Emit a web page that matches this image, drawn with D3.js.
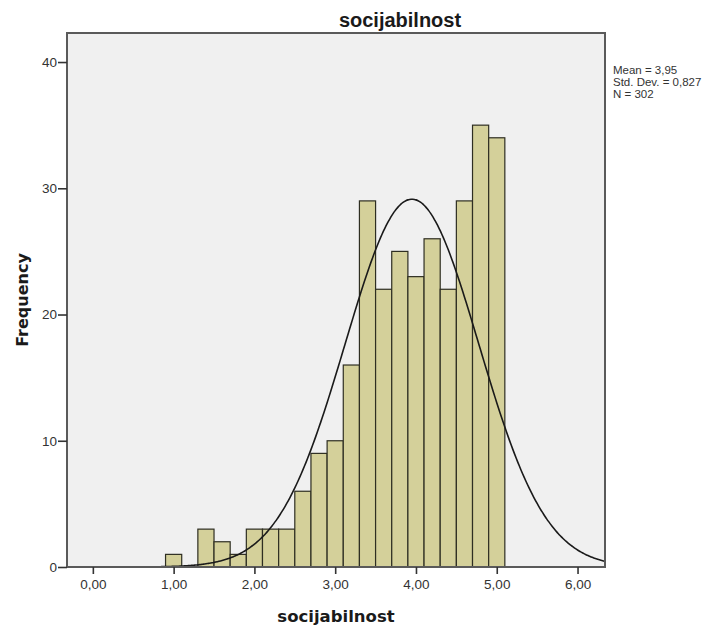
<!DOCTYPE html>
<html>
<head>
<meta charset="utf-8">
<title>socijabilnost</title>
<script src="https://cdn.jsdelivr.net/npm/d3@7"></script>
<style>
  body { margin: 0; background: #fff; }
  text { font-family: "Liberation Sans", Arial, sans-serif; }
</style>
</head>
<body>
<script>
// histogram bins (lower edge), width 0.2
var binStarts = [0.9, 1.1, 1.3, 1.5, 1.7, 1.9, 2.1, 2.3, 2.5, 2.7, 2.9, 3.1, 3.3, 3.5, 3.7, 3.9, 4.1, 4.3, 4.5, 4.7, 4.9]
var counts = [1, 0, 3, 2, 1, 3, 3, 3, 6, 9, 10, 16, 29, 22, 25, 23, 26, 22, 29, 35, 34]
var binWidth = 0.2
var xTicks = [0, 1, 2, 3, 4, 5, 6]
var yTicks = [0, 10, 20, 30, 40]
var stats = ["Mean = 3,95", "Std. Dev. = 0,827", "N = 302"]
var mean = 3.95, sd = 0.827, n = 302

var width = 724, height = 627
var pLeft = 67, pRight = 605, pTop = 33, pBottom = 567

var svg = d3.select("body").append("svg")
    .attr("width", width).attr("height", height)

var x = d3.scaleLinear().domain([-0.32, 6.34]).range([pLeft, pRight])
var y = d3.scaleLinear().domain([0, 42.3]).range([pBottom, pTop])

svg.append("rect")
    .attr("x", pLeft).attr("y", pTop)
    .attr("width", pRight - pLeft).attr("height", pBottom - pTop)
    .attr("fill", "#f0f0f0")

svg.selectAll("rect.bar")
    .data(binStarts.map(function(d, i) { return {x0: d, c: counts[i]} }).filter(function(d) { return d.c > 0 }))
    .enter().append("rect")
    .attr("class", "bar")
    .attr("x", function(d) { return x(d.x0) })
    .attr("width", function(d) { return x(d.x0 + binWidth) - x(d.x0) })
    .attr("y", function(d) { return y(d.c) })
    .attr("height", function(d) { return y(0) - y(d.c) })
    .attr("fill", "#d4d09a")
    .attr("stroke", "#2e2e22")
    .attr("stroke-width", 1.2)

// normal curve
var curveX = d3.range(-0.32, 6.341, 0.02)
var k = n * binWidth / (sd * Math.sqrt(2 * Math.PI))
var line = d3.line()
    .x(function(d) { return x(d) })
    .y(function(d) { return y(k * Math.exp(-0.5 * Math.pow((d - mean) / sd, 2))) })
    .curve(d3.curveBasis)
svg.append("path")
    .attr("d", line(curveX))
    .attr("fill", "none")
    .attr("stroke", "#1a1a1a")
    .attr("stroke-width", 1.6)

// frame
svg.append("rect")
    .attr("x", pLeft).attr("y", pTop)
    .attr("width", pRight - pLeft).attr("height", pBottom - pTop)
    .attr("fill", "none")
    .attr("stroke", "#5a5a5a")
    .attr("stroke-width", 2)

var fmt = function(d) { return d3.format(".2f")(d).replace(".", ",") }

var xAxis = svg.append("g")
    .attr("transform", "translate(0," + pBottom + ")")
    .call(d3.axisBottom(x).tickValues(xTicks).tickFormat(fmt).tickSize(7).tickPadding(5))
xAxis.select(".domain").remove()
xAxis.selectAll("line").attr("stroke", "#333").attr("stroke-width", 1.6)
xAxis.selectAll("text").attr("font-size", "13.5px").attr("fill", "#333")
    .style("font-family", "Liberation Sans, Arial, sans-serif")

var yAxis = svg.append("g")
    .attr("transform", "translate(" + pLeft + ",0)")
    .call(d3.axisLeft(y).tickValues(yTicks).tickSize(9).tickPadding(1))
yAxis.select(".domain").remove()
yAxis.selectAll("line").attr("stroke", "#333").attr("stroke-width", 1.6)
yAxis.selectAll("text").attr("font-size", "13.5px").attr("fill", "#333")
    .style("font-family", "Liberation Sans, Arial, sans-serif")

svg.append("text")
    .attr("x", 400).attr("y", 27)
    .attr("text-anchor", "middle")
    .attr("font-size", "20px").attr("font-weight", "bold").attr("fill", "#1a1a1a")
    .text("socijabilnost")

svg.append("text")
    .attr("x", (pLeft + pRight) / 2).attr("y", 622)
    .attr("text-anchor", "middle")
    .style("font-family", "DejaVu Sans, Verdana, sans-serif")
    .attr("font-size", "16.5px").attr("font-weight", "bold").attr("fill", "#1a1a1a")
    .text("socijabilnost")

svg.append("text")
    .attr("transform", "translate(28,300) rotate(-90)")
    .attr("text-anchor", "middle")
    .style("font-family", "DejaVu Sans, Verdana, sans-serif")
    .attr("font-size", "16px").attr("font-weight", "bold").attr("fill", "#1a1a1a")
    .text("Frequency")

svg.selectAll("text.stat")
    .data(stats)
    .enter().append("text")
    .attr("class", "stat")
    .attr("x", 613)
    .attr("y", function(d, i) { return 74 + i * 12 })
    .attr("font-size", "11.5px").attr("fill", "#333")
    .text(function(d) { return d })
</script>
</body>
</html>
